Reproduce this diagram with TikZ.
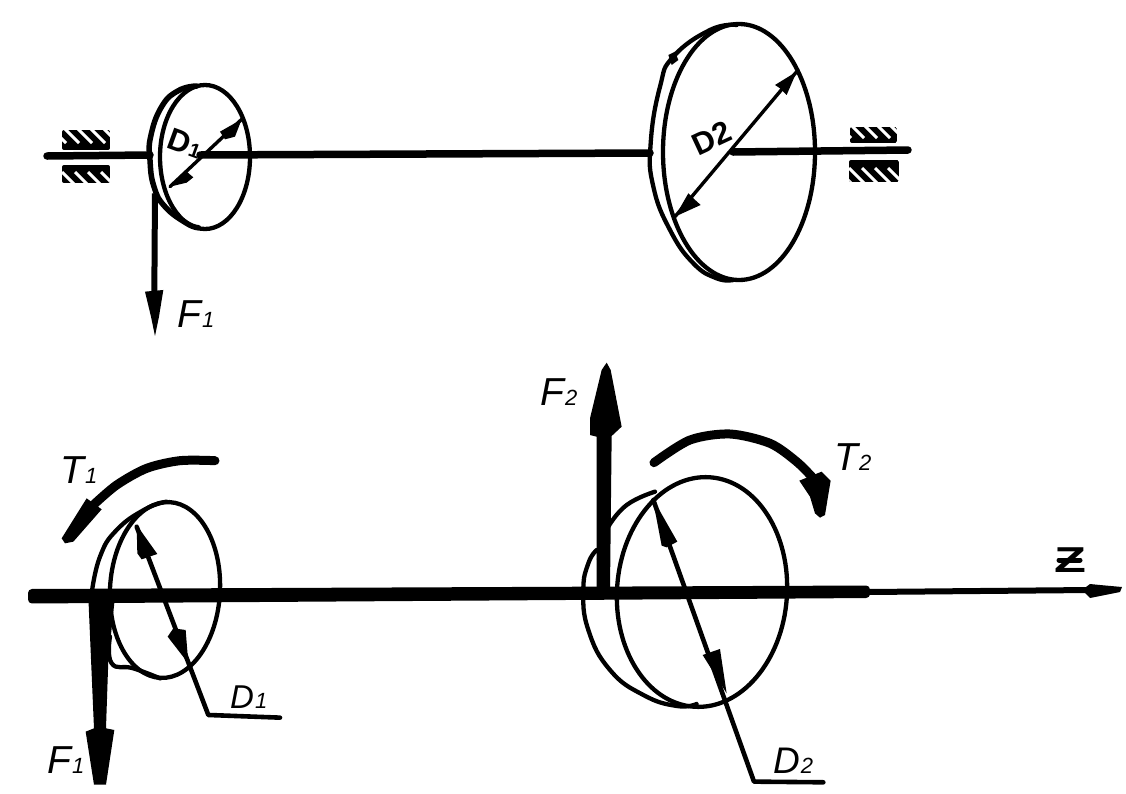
\documentclass[tikz,border=0pt]{standalone}
\usepackage{fontspec}
\setmainfont{Liberation Sans}
\newcommand{\lab}[3]{\fontsize{#3}{#3}\selectfont\itshape #1\kern1pt{\fontsize{22}{22}\selectfont #2}}
\newcommand{\bearingbox}[6]{%
  \begin{scope}
    \clip[rounded corners=2pt] (#1,#2) rectangle (#3,#4);
    \fill (#1,#2) rectangle (#3,#4);
    \foreach \k in {-2,...,5} {
      \draw[white,line width=3pt] ({#1+\k*13},#5) -- ({#1+\k*13+#6-#5},#6);
    }
  \end{scope}}
\tikzset{
  thinline/.style={line width=4.3pt,line join=round,line cap=round},
  diam/.style={line width=3.4pt,line cap=round,line join=round},
  leader/.style={line width=4.6pt,line cap=round,line join=round},
  sweep/.style={line width=9pt,line cap=round},
  shaft/.style={line width=7.5pt,line cap=round},
  tag/.style={inner sep=0pt,anchor=base west},
  boldtag/.style={inner sep=0pt,font=\fontsize{31}{31}\selectfont\bfseries},
  ztop/.style={shift={(30,60)},x=0.3333pt,y=-0.3333pt},
  zdisc/.style={shift={(630,10)},x=0.3333pt,y=-0.3333pt},
  zlow/.style={shift={(20,430)},x=0.3333pt,y=-0.3333pt},
  zhigh/.style={shift={(530,350)},x=0.3333pt,y=-0.3333pt},
}
\begin{document}
\begin{tikzpicture}[x=1pt,y=-1pt]
\useasboundingbox[fill=white] (0,0) rectangle (1126,793);

% ---------- upper figure ----------
\coordinate (sa) at (47,156);
\coordinate (sb) at (150,155);
\coordinate (sc) at (200,155);
\coordinate (sd) at (650,153);
\coordinate (se) at (733,152);
\coordinate (sf) at (908,150);
\draw[shaft] (sa) -- (sb);
\draw[shaft] (sc) -- (sd);
\draw[shaft] (se) -- (sf);

\bearingbox{62}{130}{110}{150}{126}{143}
\bearingbox{62}{165}{110}{183}{172}{188}
\bearingbox{850}{127}{897}{143}{124}{138}
\bearingbox{849}{160}{899}{182}{168}{186}

\coordinate (c1) at (205,157);
\draw[thinline] (c1) ellipse[x radius=45,y radius=72];
\begin{scope}[ztop]
  \draw[thinline,line width=5.5pt] plot[smooth,tension=0.8] coordinates {(500,78)(445,92)(395,140)(362,230)(360,300)(372,380)(405,440)(470,490)(505,503)};
  % diameter D1
  \coordinate (d1a) at (635,178);
  \coordinate (d1b) at (420,380);
  \draw[diam] (d1a) -- (d1b);
  \fill (635,178) -- (615,230) -- (585,238) -- (570,215) -- cycle;
  \fill (420,380) -- (470,335) -- (490,352) -- (470,368) -- cycle;
  % F1 upper
  \coordinate (f1a) at (375,400);
  \coordinate (f1b) at (373,700);
  \draw[line width=6pt] (f1a) -- (f1b);
  \fill (345,695) -- (400,690) -- (387,770) -- (375,828) -- (363,770) -- cycle;
\end{scope}
\node[boldtag,rotate=-20] (nd1) at (185,143) {D\kern1pt{\fontsize{20}{20}\selectfont 1}};
\node[tag] (nf1) at (177,327) {\lab{F}{1}{39}};

\coordinate (c2) at (739,152);
\draw[thinline] (c2) ellipse[x radius=76,y radius=128];
\begin{scope}[zdisc]
  \draw[thinline] plot[smooth,tension=0.8] coordinates {(320,45)(240,60)(130,140)(90,230)(62,400)(70,530)(120,660)(190,760)(260,805)(310,810)};
  \fill (115,135) -- (135,125) -- (145,150) -- (125,165) -- cycle;
  \coordinate (d2a) at (500,185);
  \coordinate (d2b) at (135,620);
  \draw[diam] (d2a) -- (d2b);
  \fill (500,185) -- (470,255) -- (450,235) -- (435,225) -- cycle;
  \fill (135,620) -- (175,550) -- (190,565) -- (212,585) -- cycle;
\end{scope}
\node[boldtag,rotate=25] (nd2) at (712,138) {D2};

% ---------- lower figure ----------
\coordinate (xa) at (30,596);
\coordinate (xb) at (868,592);
\fill[rounded corners=4pt] (28,589) -- (870,585.5) -- (870,598) -- (28,603.5) -- cycle;
\draw[line width=6pt] (xb) -- (1090,590);
\fill (1082,590) -- (1090,584) -- (1100,585) -- (1122,587) -- (1120,592) -- (1100,596) -- (1090,598) -- cycle;
\node[inner sep=0pt,xscale=1.45,font=\fontsize{36}{36}\selectfont\bfseries] (nz) at (1070,560) {Z};
\draw[line width=5pt,line cap=round] (1059,560) -- (1080,560);

\coordinate (c3) at (165,590);
\draw[thinline,rotate around={-3:(c3)}] (c3) ellipse[x radius=55,y radius=88];
\begin{scope}[zlow]
  \draw[thinline] plot[smooth,tension=0.8] coordinates {(440,215)(375,238)(290,300)(240,380)(215,490)};
  \draw[thinline] plot[smooth,tension=0.8] coordinates {(270,620)(275,700)(340,715)(420,745)};
  % D1 leader
  \coordinate (l1a) at (350,290);
  \coordinate (l1b) at (565,855);
  \coordinate (l1c) at (780,863);
  \draw[leader] (l1a) -- (l1b) -- (l1c);
  \fill (350,285) -- (412,372) -- (365,388) -- (352,370) -- cycle;
  \fill (505,700) -- (443,620) -- (460,595) -- (497,600) -- cycle;
  % T1
  \coordinate (t1a) at (585,92);
  \coordinate (t1b) at (220,225);
  \draw[sweep] plot[smooth] coordinates {(t1a)(480,92)(380,115)(290,165)(220,225)};
  \fill (200,205) -- (245,238) -- (160,335) -- (135,340) -- (125,325) -- cycle;
  % F1 lower
  \fill (205,500) -- (285,500) -- (265,690) -- (258,895) -- (283,900) -- (258,1064) -- (222,1064) -- (197,905) -- (222,895) -- cycle;
\end{scope}
\node[tag] (nt1) at (60,483) {\lab{T}{1}{39}};
\node[tag] (nf1b) at (47,773) {\lab{F}{1}{39}};
\node[tag] (nd1b) at (230,708) {\lab{D}{1}{33}};

\coordinate (c4) at (702,592);
\draw[thinline,rotate around={-4:(c4)}] (c4) ellipse[x radius=85,y radius=115];
\begin{scope}[zhigh]
  \draw[thinline] plot[smooth,tension=0.8] coordinates {(375,425)(290,465)(235,530)};
  \draw[thinline] plot[smooth,tension=0.8] coordinates {(200,600)(175,640)(160,720)(175,840)(240,960)(340,1035)(440,1068)(500,1062)};
  \draw[thinline,line width=3pt] (205,625) -- (215,725);
  % D2 leader
  \coordinate (l2a) at (370,450);
  \coordinate (l2b) at (672,1295);
  \coordinate (l2c) at (880,1297);
  \draw[leader] (l2a) -- (l2b) -- (l2c);
  \fill (368,445) -- (442,575) -- (410,592) -- (395,587) -- cycle;
  \fill (590,1030) -- (518,915) -- (570,897) -- cycle;
  % T2
  \coordinate (t2a) at (372,338);
  \coordinate (t2b) at (850,385);
  \draw[sweep] plot[smooth] coordinates {(t2a)(480,270)(600,252)(720,280)(800,335)(850,385)};
  \fill (808,392) -- (875,365) -- (902,392) -- (885,495) -- (870,503) -- (855,490) -- (840,440) -- cycle;
  % F2
  \fill (200,720) -- (200,260) -- (180,255) -- (180,205) -- (215,60) -- (230,38) -- (242,60) -- (275,230) -- (245,258) -- (240,720) -- cycle;
\end{scope}
\node[tag] (nf2) at (540,405) {\lab{F}{2}{39}};
\node[tag] (nt2) at (834,470) {\lab{T}{2}{39}};
\node[tag] (nd2b) at (773,773) {\lab{D}{2}{37}};
\end{tikzpicture}
\end{document}
